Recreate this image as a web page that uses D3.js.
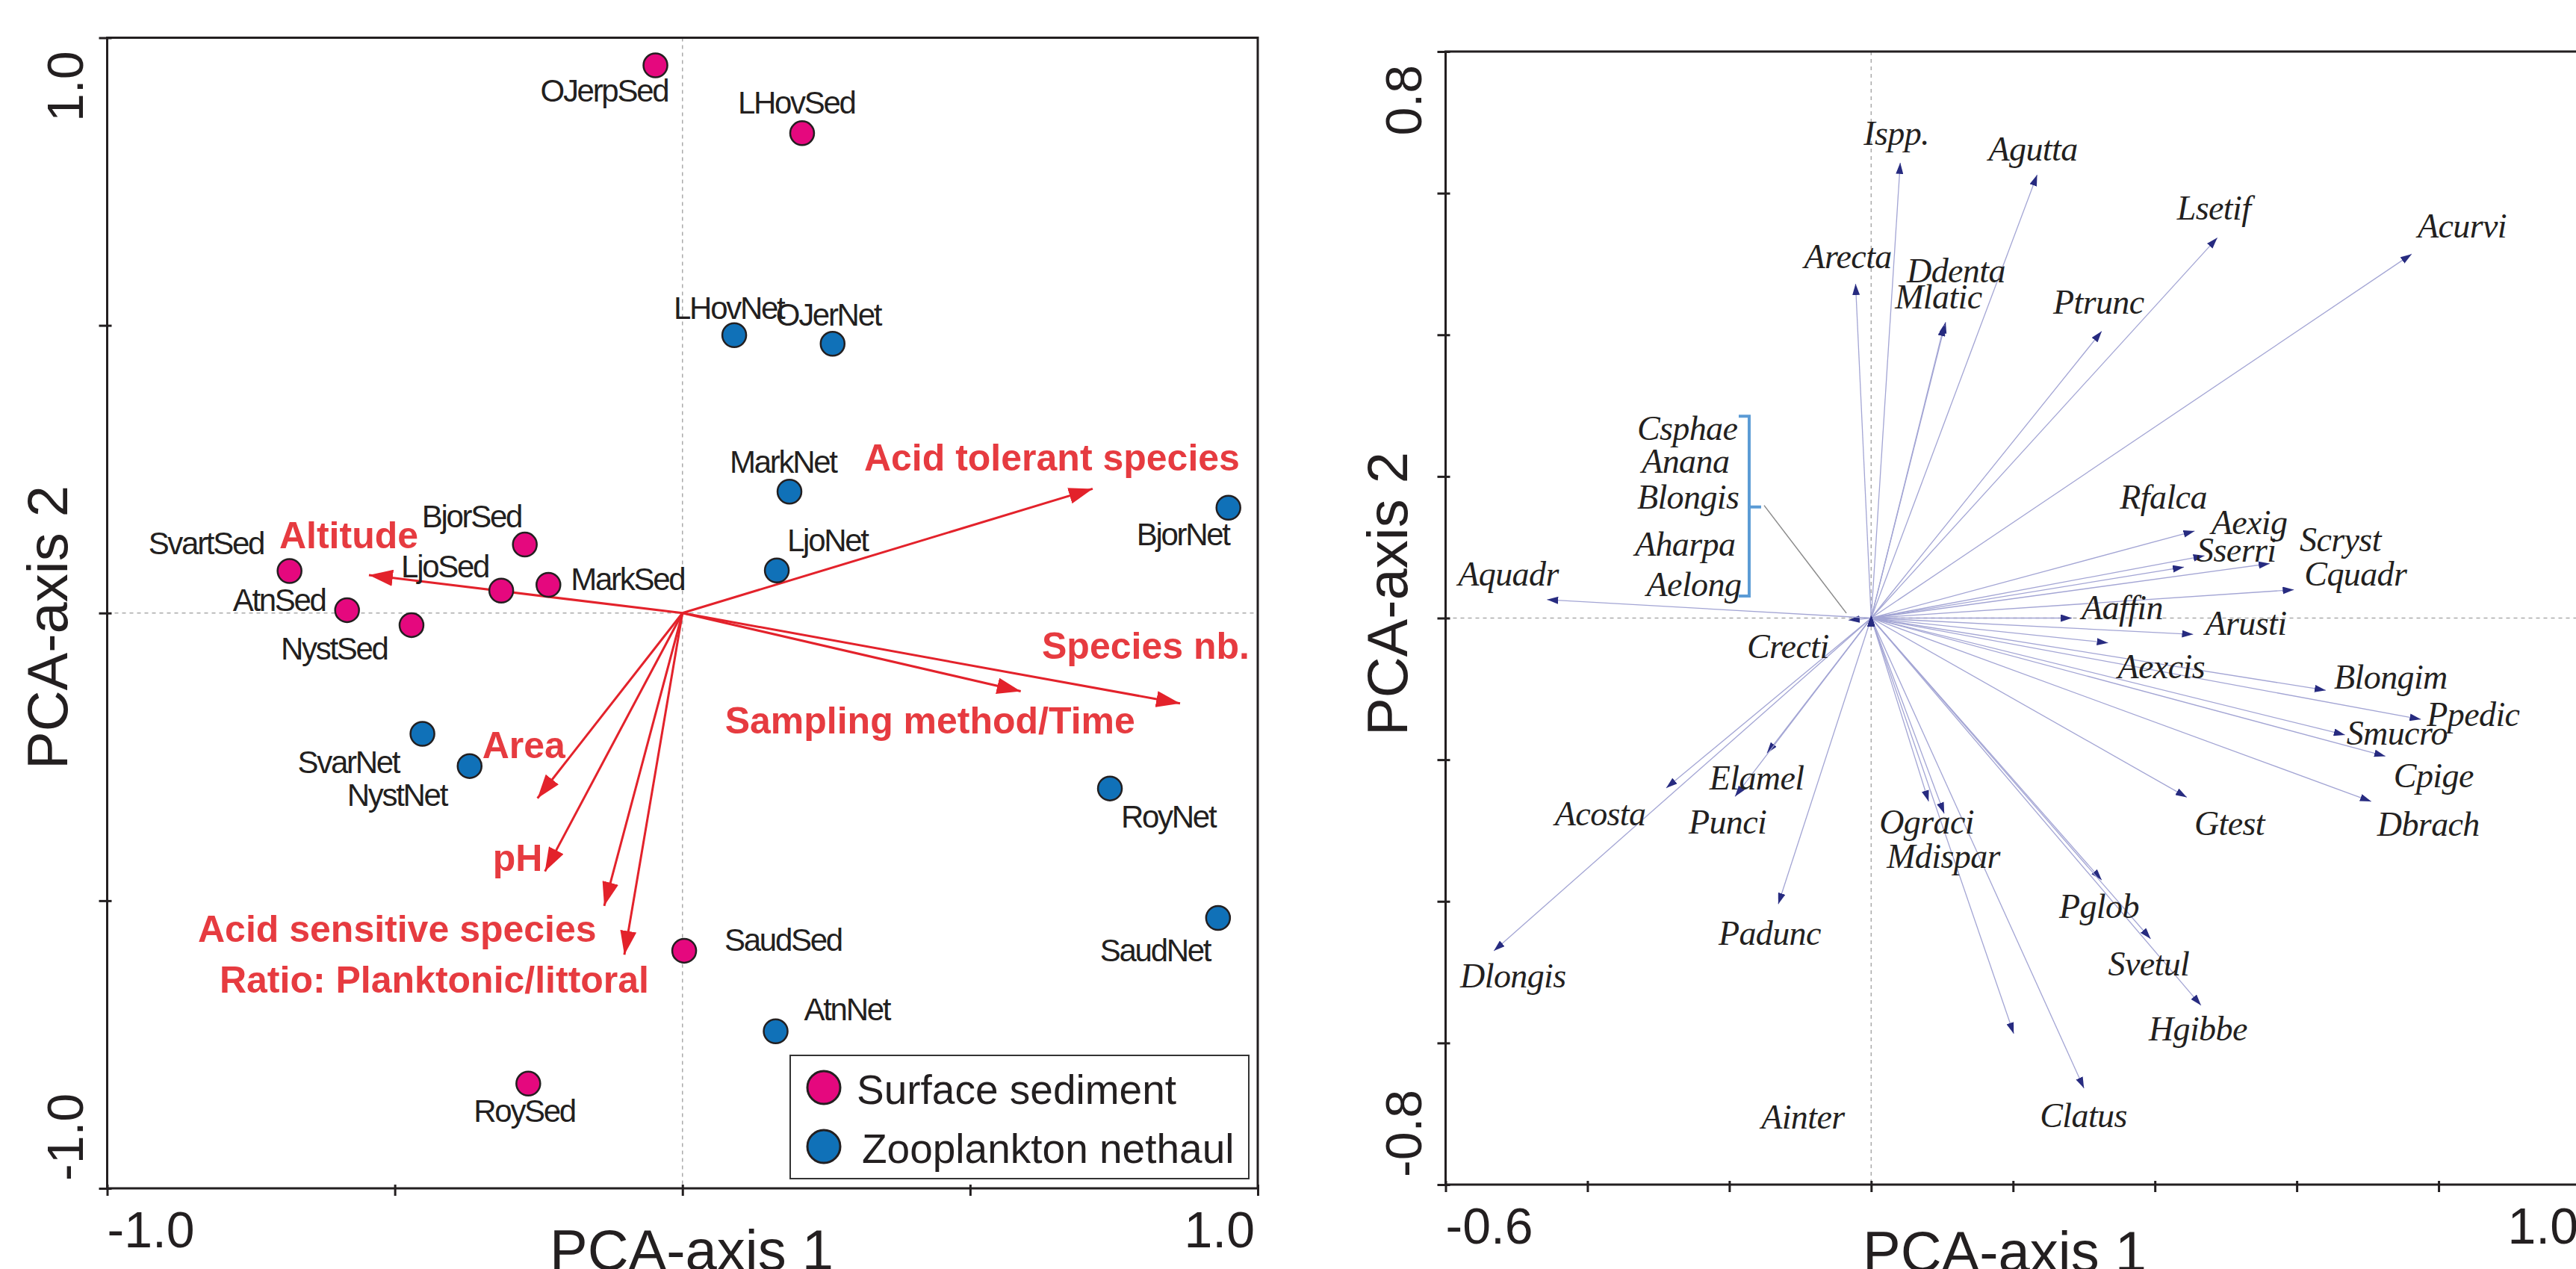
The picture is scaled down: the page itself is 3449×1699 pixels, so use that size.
<!DOCTYPE html>
<html>
<head>
<meta charset="utf-8">
<title>PCA biplots</title>
<script src="https://cdn.jsdelivr.net/npm/d3@7"></script>
<style>
  body { margin: 0; background: #fff; }
  svg { display: block; }
  .sans { font-family: "Liberation Sans", Arial, sans-serif; fill: #231f20; }
  .spp { font-family: "Liberation Serif", "Times New Roman", serif; font-style: italic; fill: #231f20; }
</style>
</head>
<body>
<svg id="chart" width="3449" height="1699"></svg>
<script>
// ---- left panel: sites ----
var sedSites = ["OJerpSed", "LHovSed", "SvartSed", "AtnSed", "NystSed", "BjorSed", "LjoSed", "MarkSed", "RoySed", "SaudSed"];
var sedAxis1 = [-0.047, 0.208, -0.683, -0.583, -0.471, -0.274, -0.315, -0.233, -0.268, 0.003];
var sedAxis2 = [0.952, 0.834, 0.073, 0.005, -0.021, 0.119, 0.039, 0.049, -0.818, -0.587];

var netSites = ["LHovNet", "OJerNet", "MarkNet", "LjoNet", "BjorNet", "SvarNet", "NystNet", "RoyNet", "SaudNet", "AtnNet"];
var netAxis1 = [0.090, 0.261, 0.186, 0.164, 0.949, -0.452, -0.370, 0.743, 0.931, 0.162];
var netAxis2 = [0.483, 0.468, 0.211, 0.074, 0.183, -0.210, -0.266, -0.305, -0.530, -0.727];

// environmental variables (red vectors)
var envVars = ["Acid tolerant species", "Altitude", "Area", "pH", "Acid sensitive species",
  "Ratio: Planktonic/littoral", "Species nb.", "Sampling method/Time"];
var envAxis1 = [0.713, -0.545, -0.252, -0.239, -0.136, -0.101, 0.865, 0.588];
var envAxis2 = [0.216, 0.066, -0.322, -0.449, -0.509, -0.594, -0.157, -0.136];

var legendLabels = ["Surface sediment", "Zooplankton nethaul"];

// ---- right panel: species vectors ----
var species = ["Ispp.", "Arecta", "Ddenta", "Mlatic", "Agutta", "Lsetif", "Acurvi", "Ptrunc",
  "Rfalca", "Aexig", "Sserri", "Scryst", "Cquadr", "Aaffin", "Arusti", "Aexcis", "Blongim",
  "Ppedic", "Smucro", "Cpige", "Dbrach", "Gtest", "Pglob", "Svetul", "Hgibbe", "Clatus",
  "Ainter", "Ograci", "Mdispar", "Padunc", "Elamel", "Punci", "Acosta", "Dlongis", "Crecti",
  "Aquadr", "Csphae", "Anana", "Blongis", "Aharpa", "Aelong"];
var sppAxis1 = [0.041, -0.022, 0.105, 0.103, 0.234, 0.488, 0.762, 0.325,
  0.456, 0.470, 0.441, 0.562, 0.596, 0.283, 0.454, 0.334, 0.641,
  0.775, 0.668, 0.725, 0.705, 0.445, 0.325, 0.394, 0.465, 0.300,
  0.201, 0.081, 0.103, -0.131, -0.147, -0.192, -0.289, -0.532, -0.032,
  -0.457, 0, 0, 0, 0, 0];
var sppAxis2 = [0.643, 0.472, 0.418, 0.414, 0.626, 0.537, 0.514, 0.405,
  0.123, 0.088, 0.072, 0.077, 0.040, 0.000, -0.023, -0.035, -0.102,
  -0.143, -0.165, -0.195, -0.259, -0.253, -0.370, -0.453, -0.547, -0.664,
  -0.587, -0.259, -0.276, -0.404, -0.191, -0.252, -0.240, -0.470, -0.003,
  0.026, 0.004, 0.004, 0.004, 0.004, 0.004];
// the five near-zero species shown with a bracket
var bracketSpecies = ["Csphae", "Anana", "Blongis", "Aharpa", "Aelong"];

var leftTicks = [-1, -0.5, 0, 0.5, 1];
var rightXTicks = [-0.6, -0.4, -0.2, 0, 0.2, 0.4, 0.6, 0.8, 1.0];
var rightYTicks = [-0.8, -0.6, -0.4, -0.2, 0, 0.2, 0.4, 0.6, 0.8];
var axisTitles = ["PCA-axis 1", "PCA-axis 2"];

// label placement, pixels relative to the mark
var siteLabelOffset = {
  OJerpSed: [-154, 49], LHovSed: [-86, -26], SvartSed: [-189, -23], AtnSed: [-153, 1],
  NystSed: [-175, 46], BjorSed: [-138, -23], LjoSed: [-134, -18], MarkSed: [30, 7],
  RoySed: [-73, 51], SaudSed: [54, 0],
  LHovNet: [-81, -22], OJerNet: [-76, -24], MarkNet: [-80, -25], LjoNet: [14, -26],
  BjorNet: [-123, 50], SvarNet: [-167, 52], NystNet: [-164, 53], RoyNet: [15, 52],
  SaudNet: [-158, 58], AtnNet: [38, -15]
};
var envLabelOffset = [[-306, -24], [-120, -36], [-74, -54], [-70, -1], [-544, 48], [-542, 51], [-185, -60], [-396, 56]];
var sppLabelOffset = {
  "Ispp.": [-49, -24], Arecta: [-69, -21], Ddenta: [-52, -53], Mlatic: [-66, -22],
  Agutta: [-65, -19], Lsetif: [-54, -24], Acurvi: [8, -22], Ptrunc: [-65, -24],
  Rfalca: [-100, -30], Aexig: [9, -29], Sserri: [17, -7], Scryst: [40, -16], Cquadr: [14, -6],
  Aaffin: [13, 1], Arusti: [16, 1], Aexcis: [13, 47], Blongim: [11, -2], Ppedic: [8, 9],
  Smucro: [2, 13], Cpige: [11, 42], Dbrach: [8, 46], Gtest: [10, 51], Pglob: [-57, 51],
  Svetul: [-57, 49], Hgibbe: [-70, 47], Clatus: [-59, 52], Ainter: [-338, 127],
  Ograci: [-66, 43], Mdispar: [-77, 73], Padunc: [-80, 54], Elamel: [-77, 48],
  Punci: [-62, 50], Acosta: [-149, 50], Dlongis: [-45, 49], Crecti: [-136, 51],
  Aquadr: [-119, -19],
  Csphae: [-179, -235], Anana: [-190, -191], Blongis: [-177, -143], Aharpa: [-182, -80], Aelong: [-174, -26]
};

var ink = "#231f20";
var svg = d3.select("#chart");
// plain hyphen for negatives, as in the original figure
var fmt = function (v) { return v.toFixed(1); };

var defs = svg.append("defs");
defs.append("marker")
  .attr("id", "redHead").attr("markerUnits", "userSpaceOnUse")
  .attr("markerWidth", 32).attr("markerHeight", 22)
  .attr("refX", 32).attr("refY", 11).attr("orient", "auto")
  .append("path").attr("d", "M0,0 L32,11 L0,22 Z").attr("fill", "#e3222b");
defs.append("marker")
  .attr("id", "navyHead").attr("markerUnits", "userSpaceOnUse")
  .attr("markerWidth", 15).attr("markerHeight", 10)
  .attr("refX", 15).attr("refY", 5).attr("orient", "auto")
  .append("path").attr("d", "M0,0 L15,5 L0,10 Z").attr("fill", "#272b80");

// frame, ticks and zero lines shared by both panels
function drawFrame(g, x, y, xTicks, yTicks, closeRight) {
  var x0 = x.range()[0], x1 = x.range()[1], y0 = y.range()[0], y1 = y.range()[1];

  g.append("line").attr("x1", x(0)).attr("x2", x(0)).attr("y1", y1).attr("y2", y0)
    .attr("stroke", "#aaa").attr("stroke-width", 1.5).attr("stroke-dasharray", "5,5");
  g.append("line").attr("x1", x0).attr("x2", x1).attr("y1", y(0)).attr("y2", y(0))
    .attr("stroke", "#aaa").attr("stroke-width", 1.5).attr("stroke-dasharray", "5,5");

  var frame = "M" + x1 + "," + y1 + "H" + x0 + "V" + y0 + "H" + x1 + (closeRight ? "Z" : "");
  g.append("path").attr("d", frame).attr("fill", "none").attr("stroke", ink).attr("stroke-width", 3);

  g.append("g").attr("transform", "translate(0," + (y0 - 5) + ")")
    .call(d3.axisBottom(x).tickValues(xTicks).tickSize(15).tickSizeOuter(0).tickFormat(""))
    .call(function (a) { a.select(".domain").remove(); })
    .selectAll(".tick line").attr("stroke", ink).attr("stroke-width", 3);
  g.append("g").attr("transform", "translate(" + (x0 + 6) + ",0)")
    .call(d3.axisLeft(y).tickValues(yTicks).tickSize(17).tickSizeOuter(0).tickFormat(""))
    .call(function (a) { a.select(".domain").remove(); })
    .selectAll(".tick line").attr("stroke", ink).attr("stroke-width", 3);
}

function endLabels(g, x, y, xBase, yBase, xEnd) {
  var xd = x.domain(), yd = y.domain();
  g.append("text").attr("class", "sans").attr("x", x(xd[0])).attr("y", xBase)
    .attr("font-size", 68).text(fmt(xd[0]));
  g.append("text").attr("class", "sans").attr("x", xEnd).attr("y", xBase)
    .attr("font-size", 68).attr("text-anchor", "end").text(fmt(xd[1]));
  g.append("text").attr("class", "sans").attr("font-size", 68)
    .attr("transform", "translate(" + yBase + "," + (y(yd[1]) + 18) + ") rotate(-90)")
    .attr("text-anchor", "end").text(fmt(yd[1]));
  g.append("text").attr("class", "sans").attr("font-size", 68)
    .attr("transform", "translate(" + yBase + "," + (y(yd[0]) - 10) + ") rotate(-90)")
    .text(fmt(yd[0]));
}

// ================= left panel =================
var xL = d3.scaleLinear().domain([-1, 1]).range([143.5, 1684]);
var yL = d3.scaleLinear().domain([-1, 1]).range([1591, 50.5]);
var left = svg.append("g");

drawFrame(left, xL, yL, leftTicks, leftTicks, true);
endLabels(left, xL, yL, 1670, 111, 1680);

left.append("text").attr("class", "sans").attr("font-size", 76)
  .attr("x", 926).attr("y", 1700).attr("text-anchor", "middle").text(axisTitles[0]);
left.append("text").attr("class", "sans").attr("font-size", 76)
  .attr("transform", "translate(90,840) rotate(-90)").attr("text-anchor", "middle").text(axisTitles[1]);

var env = envVars.map(function (d, i) { return { name: d, a1: envAxis1[i], a2: envAxis2[i], off: envLabelOffset[i] }; });
left.selectAll(".env").data(env).enter().append("line")
  .attr("x1", xL(0)).attr("y1", yL(0))
  .attr("x2", function (d) { return xL(d.a1); })
  .attr("y2", function (d) { return yL(d.a2); })
  .attr("stroke", "#e3222b").attr("stroke-width", 3)
  .attr("marker-end", "url(#redHead)");
left.selectAll(".envLabel").data(env).enter().append("text")
  .attr("x", function (d) { return xL(d.a1) + d.off[0]; })
  .attr("y", function (d) { return yL(d.a2) + d.off[1]; })
  .attr("font-family", "Liberation Sans, Arial, sans-serif").attr("font-weight", "bold")
  .attr("font-size", 50).attr("fill", "#e63b40")
  .text(function (d) { return d.name; });

var sites = sedSites.map(function (d, i) { return { name: d, a1: sedAxis1[i], a2: sedAxis2[i], type: 0 }; })
  .concat(netSites.map(function (d, i) { return { name: d, a1: netAxis1[i], a2: netAxis2[i], type: 1 }; }));
var siteColor = ["#e5087e", "#1071b8"];

left.selectAll(".site").data(sites).enter().append("circle")
  .attr("cx", function (d) { return xL(d.a1); })
  .attr("cy", function (d) { return yL(d.a2); })
  .attr("r", 16)
  .attr("fill", function (d) { return siteColor[d.type]; })
  .attr("stroke", ink).attr("stroke-width", 2.5);
left.selectAll(".siteLabel").data(sites).enter().append("text")
  .attr("class", "sans")
  .attr("x", function (d) { return xL(d.a1) + siteLabelOffset[d.name][0]; })
  .attr("y", function (d) { return yL(d.a2) + siteLabelOffset[d.name][1]; })
  .attr("font-size", 42).attr("letter-spacing", -2.3)
  .text(function (d) { return d.name; });

// legend
var legend = left.append("g");
legend.append("rect").attr("x", 1058).attr("y", 1413).attr("width", 614).attr("height", 165)
  .attr("fill", "#fff").attr("stroke", "#333").attr("stroke-width", 2);
legendLabels.forEach(function (lab, i) {
  legend.append("circle").attr("cx", 1103).attr("cy", 1456 + i * 79).attr("r", 22)
    .attr("fill", siteColor[i]).attr("stroke", ink).attr("stroke-width", 3);
  legend.append("text").attr("class", "sans").attr("font-size", 55)
    .attr("x", 1147 + i * 7).attr("y", 1478 + i * 79).text(lab);
});

// ================= right panel =================
var xR = d3.scaleLinear().domain([-0.6, 1.0]).range([1935.5, 3455]);
var yR = d3.scaleLinear().domain([-0.8, 0.8]).range([1586, 69]);
var right = svg.append("g");

drawFrame(right, xR, yR, rightXTicks, rightYTicks, true);
endLabels(right, xR, yR, 1665, 1903, 3452);

right.append("text").attr("class", "sans").attr("font-size", 76)
  .attr("x", 2684).attr("y", 1702).attr("text-anchor", "middle").text(axisTitles[0]);
right.append("text").attr("class", "sans").attr("font-size", 76)
  .attr("transform", "translate(1884,795) rotate(-90)").attr("text-anchor", "middle").text(axisTitles[1]);

var spp = species.map(function (d, i) { return { name: d, a1: sppAxis1[i], a2: sppAxis2[i] }; });

// bracket and leader for the near-zero species
var bx = xR(-0.172), bTop = yR(0.285), bBot = yR(0.031), bMid = yR(0.157);
right.append("path")
  .attr("d", "M" + (bx - 14) + "," + bTop + "H" + bx + "V" + bBot + "H" + (bx - 14) +
    "M" + bx + "," + bMid + "H" + (bx + 16))
  .attr("fill", "none").attr("stroke", "#5b9bd5").attr("stroke-width", 4);
right.append("line").attr("x1", bx + 20).attr("y1", bMid - 2)
  .attr("x2", xR(-0.035)).attr("y2", yR(0.007))
  .attr("stroke", "#8a8a8a").attr("stroke-width", 1.5);

right.selectAll(".spp").data(spp).enter().append("line")
  .attr("x1", xR(0)).attr("y1", yR(0))
  .attr("x2", function (d) { return xR(d.a1); })
  .attr("y2", function (d) { return yR(d.a2); })
  .attr("stroke", "#a3a5d4").attr("stroke-width", 1.3)
  .attr("marker-end", "url(#navyHead)");

right.selectAll(".sppLabel").data(spp).enter().append("text")
  .attr("class", "spp")
  .attr("x", function (d) { return xR(d.a1) + sppLabelOffset[d.name][0]; })
  .attr("y", function (d) { return yR(d.a2) + sppLabelOffset[d.name][1]; })
  .attr("text-anchor", function (d) { return bracketSpecies.indexOf(d.name) >= 0 ? "end" : "start"; })
  .attr("font-size", 46).attr("letter-spacing", -0.6)
  .text(function (d) { return d.name; });
</script>
</body>
</html>
